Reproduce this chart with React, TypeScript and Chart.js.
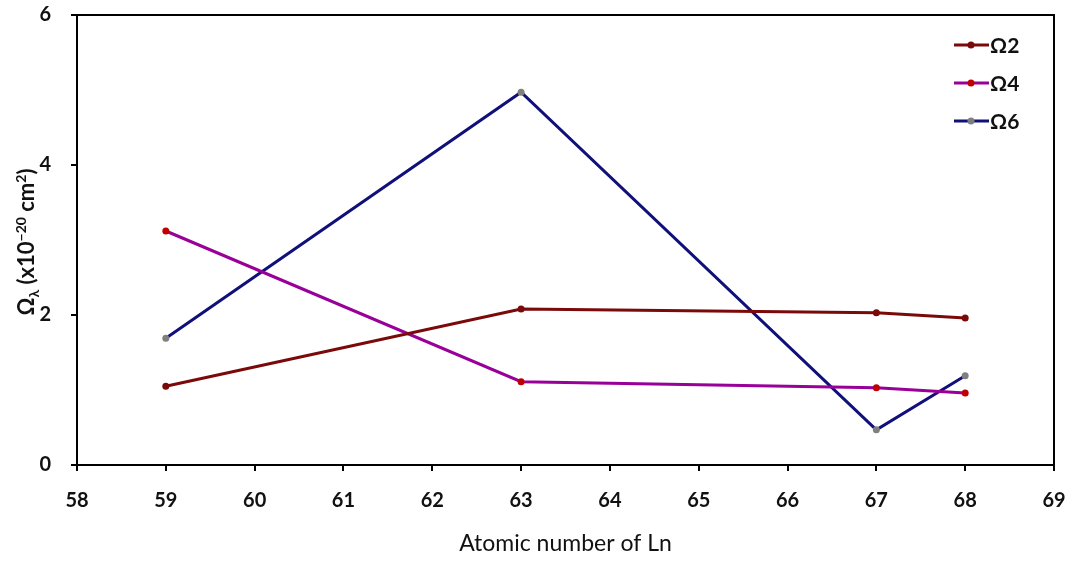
import React, { useEffect, useRef } from "react";
import { Chart, registerables } from "chart.js";

Chart.register(...registerables);

const atomicNumbers = [59, 63, 67, 68];
const omega2 = [1.05, 2.08, 2.03, 1.96];
const omega4 = [3.12, 1.11, 1.03, 0.96];
const omega6 = [1.69, 4.97, 0.47, 1.19];
const seriesLabels = ["Ω2", "Ω4", "Ω6"];
const xTitle = "Atomic number of Ln";
const yTitleParts = [
  { t: "Ω", mode: "n" },
  { t: "λ", mode: "sub" },
  { t: " (x10", mode: "n" },
  { t: "−20", mode: "sup" },
  { t: " cm", mode: "n" },
  { t: "2", mode: "sup" },
  { t: ")", mode: "n" },
];

const FONT = "Lato, 'Open Sans', sans-serif";

const framePlugin = {
  id: "frame",
  afterDraw(chart: any) {
    const { ctx, chartArea } = chart;
    ctx.save();
    ctx.strokeStyle = "#000";
    ctx.lineWidth = 2;
    ctx.strokeRect(chartArea.left, chartArea.top, chartArea.right - chartArea.left, chartArea.bottom - chartArea.top);
    // legend
    const items = chart.data.datasets;
    const x0 = chartArea.right - 100;
    let y = chartArea.top + 30;
    items.forEach((ds: any) => {
      ctx.strokeStyle = ds.borderColor;
      ctx.lineWidth = 3;
      ctx.beginPath();
      ctx.moveTo(x0, y);
      ctx.lineTo(x0 + 35, y);
      ctx.stroke();
      ctx.fillStyle = ds.pointBackgroundColor;
      ctx.beginPath();
      ctx.arc(x0 + 17, y, 3.5, 0, Math.PI * 2);
      ctx.fill();
      ctx.fillStyle = "#111";
      ctx.font = `bold 21px ${FONT}`;
      ctx.textBaseline = "middle";
      ctx.textAlign = "left";
      ctx.fillText(ds.label, x0 + 36, y + 1);
      y += 38;
    });
    // y title with sub/superscripts
    const big = 22;
    const small = 14;
    const fontFor = (m: string) => `bold ${m === "n" ? big : small}px ${FONT}`;
    let total = 0;
    yTitleParts.forEach((p) => {
      ctx.font = fontFor(p.mode);
      total += ctx.measureText(p.t).width;
    });
    const cx = 28;
    const cy = (chartArea.top + chartArea.bottom) / 2 + 2;
    ctx.translate(cx, cy);
    ctx.rotate(-Math.PI / 2);
    ctx.fillStyle = "#111";
    ctx.textBaseline = "alphabetic";
    ctx.textAlign = "left";
    let px = -total / 2;
    yTitleParts.forEach((p) => {
      ctx.font = fontFor(p.mode);
      const dy = p.mode === "sub" ? 5 : p.mode === "sup" ? -8 : 0;
      ctx.fillText(p.t, px, 6 + dy);
      px += ctx.measureText(p.t).width;
    });
    ctx.restore();
  },
};

export default function App() {
  const ref = useRef<HTMLCanvasElement>(null);
  useEffect(() => {
    const mk = (vals: number[]) => atomicNumbers.map((x, i) => ({ x, y: vals[i] }));
    const chart = new Chart(ref.current!, {
      type: "line",
      data: {
        datasets: [
          { label: seriesLabels[0], data: mk(omega2), borderColor: "#7a0a0a", backgroundColor: "#7a0a0a", pointBackgroundColor: "#7a0a0a", pointBorderWidth: 0, pointRadius: 3.5, borderWidth: 3 },
          { label: seriesLabels[1], data: mk(omega4), borderColor: "#990099", backgroundColor: "#990099", pointBackgroundColor: "#c00000", pointBorderWidth: 0, pointRadius: 3.5, borderWidth: 3 },
          { label: seriesLabels[2], data: mk(omega6), borderColor: "#10107a", backgroundColor: "#10107a", pointBackgroundColor: "#7f7f7f", pointBorderWidth: 0, pointRadius: 3.5, borderWidth: 3 },
        ],
      },
      options: {
        animation: false,
        responsive: false,
        layout: { padding: { top: 15, right: 18, left: 0, bottom: 0 } },
        plugins: { legend: { display: false }, tooltip: { enabled: false } },
        scales: {
          x: {
            type: "linear",
            min: 58,
            max: 69,
            ticks: { stepSize: 1, color: "#111", font: { family: FONT, size: 20, weight: "bold" }, padding: 18 },
            grid: { drawOnChartArea: false, drawTicks: true, tickLength: 6, color: "#000", lineWidth: 2 },
            border: { color: "#000", width: 2 },
            title: { display: true, text: xTitle, color: "#111", font: { family: FONT, size: 23 }, padding: { top: 16 } },
            afterFit(scale: any) {
              scale.height = 96;
              scale.paddingLeft = 0;
              scale.paddingRight = 0;
            },
          },
          y: {
            min: 0,
            max: 6,
            ticks: { stepSize: 2, color: "#111", font: { family: FONT, size: 20, weight: "bold" }, padding: 20 },
            grid: { drawOnChartArea: false, drawTicks: true, tickLength: 6, color: "#000", lineWidth: 2 },
            border: { color: "#000", width: 2 },
            title: { display: false },
            afterFit(scale: any) {
              scale.width = 77;
              scale.paddingTop = 0;
              scale.paddingBottom = 0;
            },
          },
        },
      },
      plugins: [framePlugin],
    });
    return () => chart.destroy();
  }, []);
  return (
    <div style={{ position: "fixed", left: 0, top: 0, width: 1072, height: 561, background: "#fff" }}>
      <canvas ref={ref} width={1072} height={561} />
    </div>
  );
}
